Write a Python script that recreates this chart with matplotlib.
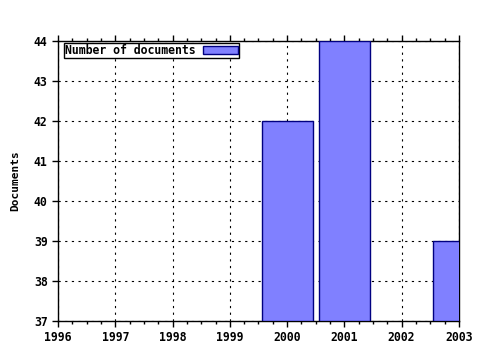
import matplotlib
matplotlib.use("Agg")
import matplotlib.pyplot as plt
from matplotlib.ticker import MultipleLocator

years = [2000, 2001, 2003]
docs = [42, 44, 39]
xticks = [1996, 1997, 1998, 1999, 2000, 2001, 2002, 2003]
yticks = [37, 38, 39, 40, 41, 42, 43, 44]

plt.rcParams['font.family'] = ['DejaVu Sans Mono']
plt.rcParams['font.weight'] = 'bold'

fig = plt.figure(figsize=(4.8, 3.5), dpi=100)
ax = fig.add_axes([0.121, 0.083, 0.835, 0.800])

ax.bar(years, [d - 37 for d in docs], bottom=37, width=0.89,
       color='#8080ff', edgecolor='#000080', linewidth=1.0,
       label='Number of documents', zorder=3)

ax.set_xlim(1996, 2003)
ax.set_ylim(37, 44)
ax.set_xticks(xticks)
ax.set_yticks(yticks)
ax.xaxis.set_minor_locator(MultipleLocator(0.25))
ax.grid(True, which='major', color='black', linestyle=(0, (2, 4)), linewidth=0.8, zorder=0)
ax.tick_params(axis='both', which='major', labelsize=8.3, length=4, direction='out', width=1)
ax.tick_params(axis='x', which='minor', length=2, direction='out', top=True, width=1)
ax.tick_params(axis='x', which='major', top=True)
for lab in ax.get_xticklabels() + ax.get_yticklabels():
    lab.set_fontweight('bold')
for s in ax.spines.values():
    s.set_linewidth(1)
ax.set_ylabel('Documents', fontsize=8, fontweight='bold', labelpad=10)

leg = ax.legend(loc='upper left', bbox_to_anchor=(0.015, 0.991), fontsize=8.3,
                frameon=True, fancybox=False, framealpha=1, edgecolor='black',
                borderpad=0.05, handlelength=3.0, handleheight=0.6,
                handletextpad=0.7, markerfirst=False, borderaxespad=0)
leg.get_frame().set_linewidth(1)

fig.savefig('out.png', dpi=100)
